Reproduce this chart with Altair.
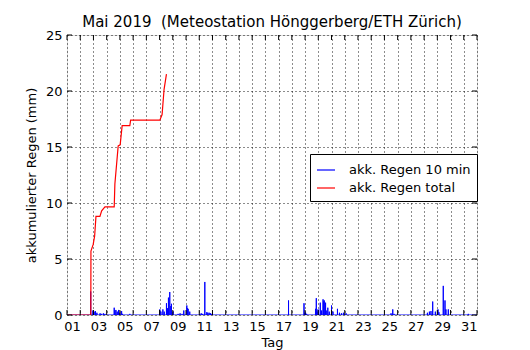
import altair as alt
import pandas as pd

# cumulative total rain (red line)
total_day = [0, 1.80, 1.81, 1.98, 2.09, 2.19, 2.49, 2.62, 2.87, 3.57, 3.62, 3.87, 4.02, 4.17,
             4.75, 4.81, 7.02, 7.19, 7.34, 7.52]
total_mm = [0, 0, 5.7, 6.3, 7.05, 8.8, 8.8, 9.3, 9.65, 9.65, 11.7, 15.1, 15.2, 16.9,
            16.9, 17.4, 17.4, 17.9, 20.15, 21.5]

# 10-min rain spikes (blue line)
spike_day = [1.79, 1.96, 2.05, 2.15, 2.26, 2.5, 2.6, 2.75, 2.87,
             3.57, 3.62, 3.7, 3.8, 3.9, 4.0, 4.13, 4.2, 4.75,
             7.02, 7.1, 7.25, 7.35, 7.52, 7.6, 7.67, 7.77, 7.85, 7.9, 8.02,
             8.4, 8.55, 8.7, 8.83, 9.06, 9.11, 9.16, 9.28,
             10.04, 10.15, 10.26, 10.42, 10.57, 10.65, 10.75, 10.85, 10.94,
             16.75, 17.92, 18.0, 18.04, 18.12,
             18.79, 18.85, 18.9, 18.98, 19.15, 19.25, 19.36, 19.41, 19.45, 19.55, 19.6,
             19.72, 19.83, 20.0, 20.11, 20.45, 20.6, 20.75, 20.9, 21.1,
             24.5, 24.63, 24.73,
             27.25, 27.4, 27.52, 27.65, 27.85, 28.05, 28.12, 28.45, 28.58, 28.65, 28.83,
             30.34]
spike_mm = [2.1, 0.4, 0.3, 0.35, 0.2, 0.15, 0.1, 0.15, 0.1,
            0.65, 0.4, 0.45, 0.3, 0.45, 0.2, 0.35, 0.1, 0.1,
            0.5, 0.3, 0.5, 0.3, 1.05, 0.6, 1.55, 2.05, 0.8, 1.0, 0.3,
            0.1, 0.15, 0.1, 0.4, 0.85, 0.6, 0.55, 0.3,
            0.1, 0.15, 0.1, 2.95, 0.25, 0.2, 0.2, 0.15, 0.1,
            1.3, 1.05, 0.2, 0.2, 0.1,
            0.55, 1.5, 0.3, 0.5, 1.1, 0.4, 1.4, 1.2, 1.3, 1.1, 0.4,
            0.65, 0.3, 0.85, 0.3, 0.55, 0.2, 0.15, 0.2, 0.15,
            0.15, 0.5, 0.1,
            0.2, 0.3, 0.35, 1.2, 0.3, 0.5, 0.25, 2.6, 1.3, 0.5, 0.5,
            0.1]

x_ticks = list(range(0, 32))
x_labels = ["01", "03", "05", "07", "09", "11", "13", "15", "17", "19", "21", "23",
            "25", "27", "29", "31"]
y_ticks = [0, 5, 10, 15, 20, 25]
series = ["akk. Regen 10 min", "akk. Regen total"]
colors = ["#0000ff", "#ff0000"]

W, H = 410, 280
XMAX = 31
FONT = "DejaVu Sans"

# build blue spike line from the spike lists
w = 0.004
bd, bv = [0.0], [0.0]
for d, v in zip(spike_day, spike_mm):
    bd += [d - w, d, d + w]
    bv += [0.0, v, 0.0]
bd.append(XMAX)
bv.append(0.0)
blue = pd.DataFrame({"day": bd, "mm": bv, "series": series[0], "i": range(len(bd))})
red = pd.DataFrame({"day": total_day, "mm": total_mm, "series": series[1],
                    "i": range(len(total_day))})

xscale = alt.Scale(domain=[0, XMAX], nice=False, zero=False)
yscale = alt.Scale(domain=[0, 25], nice=False)
cscale = alt.Scale(domain=series, range=colors)

label_vals = [int(s) for s in x_labels]

xaxis = alt.Axis(values=x_ticks, format="02d", title="Tag", grid=True, ticks=False,
                 domain=False, labelAlign="right", labelPadding=5, labelFontSize=13,
                 labelExpr="indexof(" + str(label_vals) + ", datum.value) >= 0 ? datum.label : ''",
                 titleFontSize=13, titleFontWeight="normal", titlePadding=3,
                 labelFont=FONT, titleFont=FONT, labelColor="black", titleColor="black",
                 gridColor="black", gridDash=[1, 3], gridOpacity=0.9, labelFlush=False,
                 labelOverlap=False, labelBound=False)
yaxis = alt.Axis(values=y_ticks, title="akkumulierter Regen (mm)", grid=True, ticks=False,
                 domain=False, labelPadding=5, labelFontSize=13, titleFontSize=13,
                 titleFontWeight="normal", titlePadding=7, labelFont=FONT, titleFont=FONT,
                 labelColor="black", titleColor="black", gridColor="black",
                 gridDash=[1, 3], gridOpacity=0.9, labelFlush=False)

legend = alt.Legend(title=None, orient="none", legendX=243, legendY=119,
                    strokeColor="black", fillColor="white", padding=6,
                    symbolType="stroke", symbolSize=324, symbolStrokeWidth=1.2,
                    labelFontSize=13, labelFont=FONT, labelColor="black",
                    labelOffset=13, rowPadding=1)

blue_line = alt.Chart(blue).mark_line(strokeWidth=1, clip=True).encode(
    x=alt.X("day:Q", scale=xscale, axis=xaxis),
    y=alt.Y("mm:Q", scale=yscale, axis=yaxis),
    color=alt.Color("series:N", scale=cscale, legend=legend),
    order="i:Q",
)
red_line = alt.Chart(red).mark_line(strokeWidth=1.2, clip=True).encode(
    x=alt.X("day:Q", scale=xscale, axis=xaxis),
    y=alt.Y("mm:Q", scale=yscale, axis=yaxis),
    color=alt.Color("series:N", scale=cscale, legend=legend),
    order="i:Q",
)

xt = pd.DataFrame({"day": x_ticks})
yt = pd.DataFrame({"v": y_ticks})
tb = alt.Chart(xt).mark_rule(color="black", strokeWidth=1).encode(
    x=alt.X("day:Q", scale=xscale, axis=xaxis), y=alt.value(H), y2=alt.value(H - 5))
tt = alt.Chart(xt).mark_rule(color="black", strokeWidth=1).encode(
    x=alt.X("day:Q", scale=xscale, axis=xaxis), y=alt.value(0), y2=alt.value(5))
tl = alt.Chart(yt).mark_rule(color="black", strokeWidth=1).encode(
    y=alt.Y("v:Q", scale=yscale, axis=yaxis), x=alt.value(0), x2=alt.value(5))
tr = alt.Chart(yt).mark_rule(color="black", strokeWidth=1).encode(
    y=alt.Y("v:Q", scale=yscale, axis=yaxis), x=alt.value(W), x2=alt.value(W - 5))

chart = alt.layer(blue_line, red_line, tb, tt, tl, tr).properties(
    width=W, height=H,
    title=alt.TitleParams("Mai 2019\u00a0 (Meteostation Hönggerberg/ETH Zürich)",
                          fontSize=15, font=FONT, fontWeight="normal", color="black",
                          anchor="middle", frame="group", offset=-1),
    autosize=alt.AutoSizeParams(type="none"),
    padding={"left": 59, "top": 27, "right": 40, "bottom": 40},
).configure_view(stroke="black", strokeWidth=1.2).configure(background="white")

chart.save("out.html", embed_options={"renderer": "svg", "actions": False})
